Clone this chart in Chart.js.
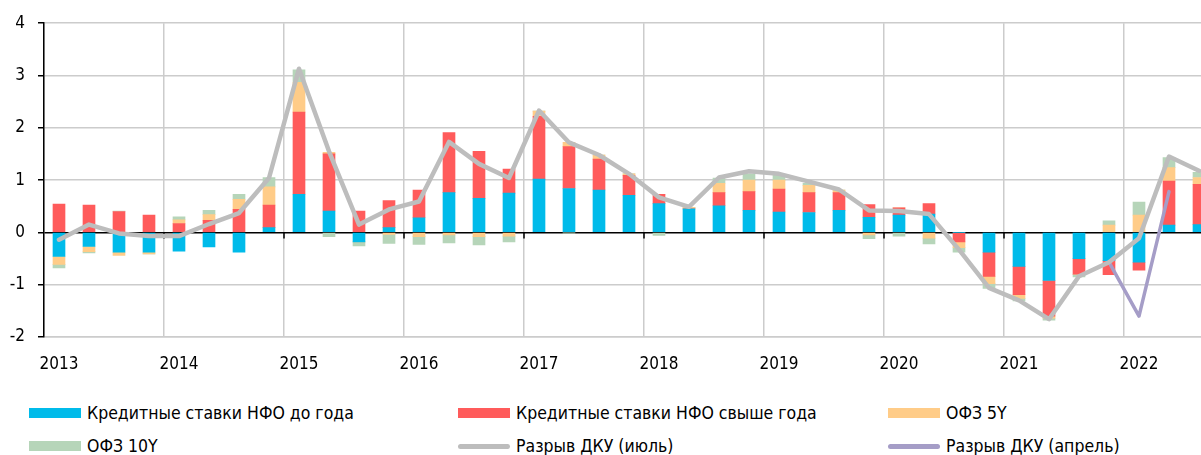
<!DOCTYPE html>
<html>
<head>
<meta charset="utf-8">
<script src="https://cdn.jsdelivr.net/npm/chart.js@4"></script>
<style>
  body {
    margin: 0;
    background: #fff;
    width: 1201px;
    height: 455px;
    overflow: hidden;
    position: relative;
    font-family: "DejaVu Sans Condensed", "Liberation Sans Narrow", sans-serif;
  }
  #chart { position: absolute; left: 0; top: 0; }
  .legend-item {
    position: absolute;
    height: 22px;
    display: flex;
    align-items: center;
    font-size: 17.5px;
    color: #000;
    white-space: nowrap;
  }
  .swatch { width: 52px; height: 10px; margin-right: 6px; }
  .swatch.line { height: 5px; border-radius: 3px; }
</style>
</head>
<body>
<canvas id="chart" width="1201" height="380"></canvas>
<div id="legend"></div>
<script>
const years = ["2013", "2014", "2015", "2016", "2017", "2018", "2019", "2020", "2021", "2022"];

const quarters = [
  "2013Q1", "2013Q2", "2013Q3", "2013Q4",
  "2014Q1", "2014Q2", "2014Q3", "2014Q4",
  "2015Q1", "2015Q2", "2015Q3", "2015Q4",
  "2016Q1", "2016Q2", "2016Q3", "2016Q4",
  "2017Q1", "2017Q2", "2017Q3", "2017Q4",
  "2018Q1", "2018Q2", "2018Q3", "2018Q4",
  "2019Q1", "2019Q2", "2019Q3", "2019Q4",
  "2020Q1", "2020Q2", "2020Q3", "2020Q4",
  "2021Q1", "2021Q2", "2021Q3", "2021Q4",
  "2022Q1", "2022Q2", "2022Q3"
];

// Кредитные ставки НФО до года
const shortLoans = [
  -0.46, -0.27, -0.38, -0.38,
  -0.36, -0.28, -0.38, 0.09,
  0.73, 0.41, -0.18, 0.09,
  0.28, 0.76, 0.65, 0.75,
  1.02, 0.84, 0.81, 0.71,
  0.55, 0.45, 0.51, 0.42,
  0.39, 0.38, 0.42, 0.29,
  0.33, 0.35, 0, -0.38,
  -0.65, -0.92, -0.50, -0.54,
  -0.57, 0.14, 0.15
];

// Кредитные ставки НФО свыше года
const longLoans = [
  0.54, 0.52, 0.40, 0.33,
  0.17, 0.23, 0.44, 0.43,
  1.57, 1.09, 0.41, 0.52,
  0.53, 1.15, 0.90, 0.46,
  1.20, 0.80, 0.59, 0.38,
  0.18, 0, 0.25, 0.36,
  0.44, 0.38, 0.34, 0.24,
  0.14, 0.20, -0.18, -0.46,
  -0.54, -0.68, -0.30, -0.27,
  -0.15, 0.84, 0.77
];

// ОФЗ 5Y
const ofz5 = [
  -0.15, -0.10, -0.06, -0.03,
  0.07, 0.11, 0.19, 0.35,
  0.57, 0.03, 0, -0.04,
  -0.08, -0.05, -0.08, -0.07,
  0.10, 0.08, 0.08, 0.03,
  0, 0.03, 0.18, 0.22,
  0.17, 0.14, 0.05, -0.05,
  0, -0.11, -0.11, -0.14,
  -0.07, -0.04, 0, 0.14,
  0.33, 0.26, 0.13
];

// ОФЗ 10Y
const ofz10 = [
  -0.07, -0.02, 0.01, 0,
  0.06, 0.08, 0.10, 0.18,
  0.24, -0.08, -0.08, -0.17,
  -0.15, -0.15, -0.16, -0.11,
  0, -0.01, 0, 0,
  -0.06, 0, 0.10, 0.12,
  0.09, 0.04, 0, -0.07,
  -0.07, -0.11, -0.09, -0.09,
  -0.05, -0.04, -0.05, 0.08,
  0.25, 0.19, 0.10
];

// Разрыв ДКУ (июль)
const gapJuly = [
  -0.14, 0.15, -0.02, -0.07,
  -0.07, 0.16, 0.37, 1.04,
  3.13, 1.55, 0.15, 0.44,
  0.59, 1.73, 1.31, 1.04,
  2.33, 1.72, 1.48, 1.12,
  0.67, 0.49, 1.05, 1.17,
  1.12, 0.97, 0.82, 0.42,
  0.41, 0.35, -0.33, -1.06,
  -1.30, -1.66, -0.84, -0.57,
  -0.11, 1.45, 1.18
];

// Разрыв ДКУ (апрель)
const gapApril = [
  null, null, null, null,
  null, null, null, null,
  null, null, null, null,
  null, null, null, null,
  null, null, null, null,
  null, null, null, null,
  null, null, null, null,
  null, null, null, null,
  null, null, null, -0.57,
  -1.60, 0.78, null
];

// quarter -> position on a year axis (middle of the quarter)
function quarterPos(q) {
  const [y, n] = q.split("Q");
  return Number(y) + (Number(n) - 0.5) / 4;
}

function toPoints(values) {
  return quarters.map((q, i) => ({ x: quarterPos(q), y: values[i] }));
}

const bars = [
  { label: "Кредитные ставки НФО до года", data: shortLoans, color: "#00bbea" },
  { label: "Кредитные ставки НФО свыше года", data: longLoans, color: "#ff5b5b" },
  { label: "ОФЗ 5Y", data: ofz5, color: "#ffcc88" },
  { label: "ОФЗ 10Y", data: ofz10, color: "#b6d5b9" }
];

const lines = [
  { label: "Разрыв ДКУ (июль)", data: gapJuly, color: "#bdbdbd", width: 4.5 },
  { label: "Разрыв ДКУ (апрель)", data: gapApril, color: "#a59dc7", width: 3.5 }
];

const datasets = [];

bars.forEach(b => {
  datasets.push({
    type: "bar",
    label: b.label,
    data: toPoints(b.data),
    backgroundColor: b.color,
    borderWidth: 0,
    barThickness: 12,
    order: 1
  });
});

lines.forEach((l, i) => {
  datasets.push({
    type: "line",
    label: l.label,
    data: toPoints(l.data),
    borderColor: l.color,
    backgroundColor: l.color,
    borderWidth: l.width,
    pointRadius: 0,
    tension: 0,
    borderCapStyle: "round",
    borderJoinStyle: "round",
    stack: "line" + i,
    order: 0
  });
});

// small tick marks on the zero line at each year boundary
const zeroTicks = {
  id: "zeroTicks",
  beforeDatasetsDraw(chart) {
    const { ctx, scales: { x, y } } = chart;
    const y0 = y.getPixelForValue(0);
    ctx.save();
    ctx.strokeStyle = "#000";
    ctx.lineWidth = 1.5;
    years.forEach(yr => {
      const px = x.getPixelForValue(Number(yr));
      if (px > x.left + 1) {
        ctx.beginPath();
        ctx.moveTo(px, y0);
        ctx.lineTo(px, y0 + 6);
        ctx.stroke();
      }
    });
    ctx.restore();
  }
};

const tickFont = { family: '"DejaVu Sans Condensed", "Liberation Sans Narrow", sans-serif', size: 17 };

new Chart(document.getElementById("chart").getContext("2d"), {
  data: { datasets: datasets },
  options: {
    responsive: false,
    animation: false,
    devicePixelRatio: 1,
    layout: { padding: { top: 18, right: 0, left: 0, bottom: 0 } },
    plugins: {
      legend: { display: false },
      tooltip: { enabled: false }
    },
    scales: {
      x: {
        type: "linear",
        min: 2013,
        max: 2013 + 1157 / 120,
        offset: false,
        bounds: "ticks",
        stacked: true,
        afterFit: s => { s.height = 43; },
        ticks: {
          stepSize: 1,
          includeBounds: false,
          autoSkip: false,
          maxRotation: 0,
          labelOffset: 15,
          padding: 17,
          color: "#000",
          font: tickFont,
          callback: v => years.includes(String(v)) ? String(v) : ""
        },
        grid: { color: "#cccccc", lineWidth: 1.5, drawTicks: false, offset: false },
        border: { color: "#cccccc", width: 1.5 }
      },
      y: {
        min: -2,
        max: 4,
        stacked: true,
        afterFit: s => { s.width = 44; },
        ticks: {
          stepSize: 1,
          padding: 13,
          color: "#000",
          font: tickFont
        },
        grid: {
          color: ctx => ctx.tick && ctx.tick.value === 0 ? "#000" : "#cccccc",
          lineWidth: 1.5,
          tickLength: 6,
          tickColor: "#000"
        },
        border: { color: "#000", width: 1.5 }
      }
    }
  },
  plugins: [zeroTicks]
});

// legend below the chart, three columns
const legendEl = document.getElementById("legend");
const legendCols = [29, 458, 888];
const legendRows = [402, 435];
const legendItems = bars.map(b => ({ label: b.label, color: b.color, line: false }))
  .concat(lines.map(l => ({ label: l.label, color: l.color, line: true })));

legendItems.forEach((item, i) => {
  const el = document.createElement("div");
  el.className = "legend-item";
  el.style.left = legendCols[i % 3] + "px";
  el.style.top = legendRows[Math.floor(i / 3)] + "px";
  const sw = document.createElement("span");
  sw.className = item.line ? "swatch line" : "swatch";
  sw.style.background = item.color;
  el.appendChild(sw);
  el.appendChild(document.createTextNode(item.label));
  legendEl.appendChild(el);
});
</script>
</body>
</html>
